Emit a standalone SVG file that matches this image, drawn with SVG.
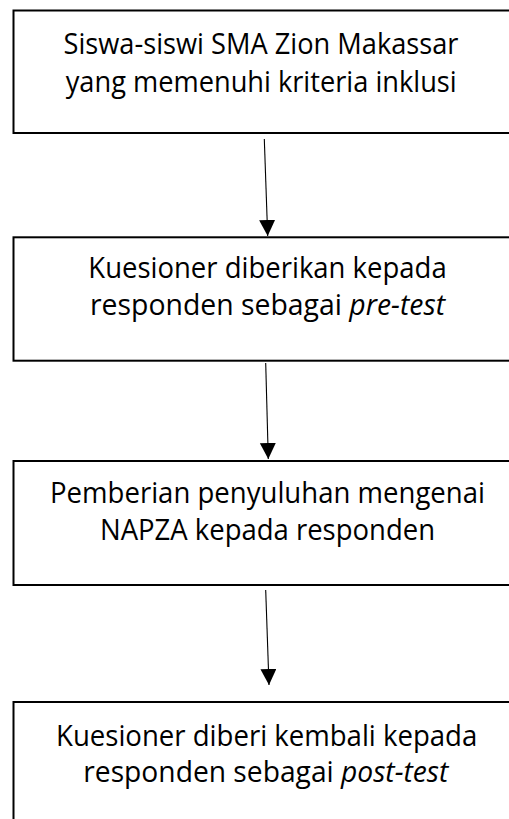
<svg xmlns="http://www.w3.org/2000/svg" width="509" height="819" viewBox="0 0 509 819">
<style>
.box{fill:#fff;stroke:#000;stroke-width:2}
.lbl{font-family:"Open Sans","Noto Sans",sans-serif;font-size:30px;fill:#000}
.it{font-style:italic}
.conn{stroke:#000;stroke-width:1.1;fill:none;marker-end:url(#ah)}
</style>
<defs>
<marker id="ah" markerUnits="userSpaceOnUse" markerWidth="17" markerHeight="17" refX="16" refY="8" orient="auto">
<path d="M0,0 L16,8 L0,16 Z" fill="#000"/>
</marker>
</defs>
<rect width="509" height="819" fill="#fff"/>
<g id="n1">
<rect class="box" x="13.5" y="10.5" width="520" height="122.5"/>
<text class="lbl" x="63.5" y="54" textLength="395" lengthAdjust="spacingAndGlyphs">Siswa-siswi SMA Zion Makassar</text>
<text class="lbl" x="65.7" y="91.5" textLength="391" lengthAdjust="spacingAndGlyphs">yang memenuhi kriteria inklusi</text>
</g>
<g id="n2">
<rect class="box" x="13.5" y="237.3" width="520" height="123.4"/>
<text class="lbl" x="88.3" y="278.3" textLength="358.4" lengthAdjust="spacingAndGlyphs">Kuesioner diberikan kepada</text>
<text class="lbl" x="90" y="315" textLength="355" lengthAdjust="spacingAndGlyphs">responden sebagai <tspan class="it">pre-test</tspan></text>
</g>
<g id="n3">
<rect class="box" x="13.5" y="461" width="520" height="124"/>
<text class="lbl" x="50" y="502.7" textLength="435" lengthAdjust="spacingAndGlyphs">Pemberian penyuluhan mengenai</text>
<text class="lbl" x="100" y="540" textLength="335" lengthAdjust="spacingAndGlyphs">NAPZA kepada responden</text>
</g>
<g id="n4">
<rect class="box" x="13.5" y="702" width="520" height="140"/>
<text class="lbl" x="56" y="746" textLength="421.3" lengthAdjust="spacingAndGlyphs">Kuesioner diberi kembali kepada</text>
<text class="lbl" x="83.3" y="781.7" textLength="365" lengthAdjust="spacingAndGlyphs">responden sebagai <tspan class="it">post-test</tspan></text>
</g>
<g id="connectors">
<line class="conn" x1="264.3" y1="139" x2="267.7" y2="236"/>
<line class="conn" x1="265.7" y1="363" x2="268.3" y2="459"/>
<line class="conn" x1="265.7" y1="590" x2="269" y2="685"/>
</g>
</svg>
